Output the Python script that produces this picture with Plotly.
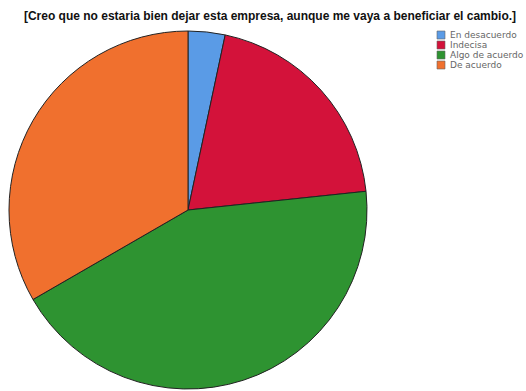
import plotly.graph_objects as go

# Response categories and counts for the item
categories = ["En desacuerdo", "Indecisa", "Algo de acuerdo", "De acuerdo"]
counts = [1, 6, 13, 10]
colors = ["#5a9be6", "#d3123a", "#2e9331", "#f0702e"]

title_text = "[Creo que no estaria bien dejar esta empresa, aunque me vaya a beneficiar el cambio.]"

W, H = 526, 391

fig = go.Figure(
    go.Pie(
        labels=categories,
        values=counts,
        sort=False,
        direction="clockwise",
        rotation=0,
        textinfo="none",
        hoverinfo="label+value+percent",
        showlegend=False,
        marker=dict(colors=colors, line=dict(color="#222222", width=1)),
        domain=dict(x=[9 / W, 367 / W], y=[2 / H, 360 / H]),
    )
)

# Compact legend: small colour keys with labels, stacked at the top right
key_x0, key_y0, key_size, row_step = 437, 31, 8, 10
for i, (cat, col) in enumerate(zip(categories, colors)):
    top = key_y0 + i * row_step
    fig.add_shape(
        type="rect",
        xref="paper", yref="paper",
        x0=key_x0 / W, x1=(key_x0 + key_size) / W,
        y0=1 - (top + key_size) / H, y1=1 - top / H,
        fillcolor=col,
        line=dict(color="#666666", width=0.6),
    )
    fig.add_annotation(
        xref="paper", yref="paper",
        x=(key_x0 + key_size + 3) / W, y=1 - (top + key_size / 2) / H,
        xanchor="left", yanchor="middle",
        text=cat,
        showarrow=False,
        font=dict(family="DejaVu Sans, sans-serif", size=9, color="#666666"),
    )

fig.update_layout(
    width=W,
    height=H,
    margin=dict(l=0, r=0, t=0, b=0),
    paper_bgcolor="white",
    plot_bgcolor="white",
    font=dict(family="Liberation Sans, Arial, sans-serif", color="#222222"),
    title=dict(
        text="<b>" + title_text + "</b>",
        x=270 / W,
        xanchor="center",
        y=1 - 16 / H,
        yanchor="middle",
        font=dict(size=12, color="#111111"),
    ),
)

fig.write_html("out.html")
